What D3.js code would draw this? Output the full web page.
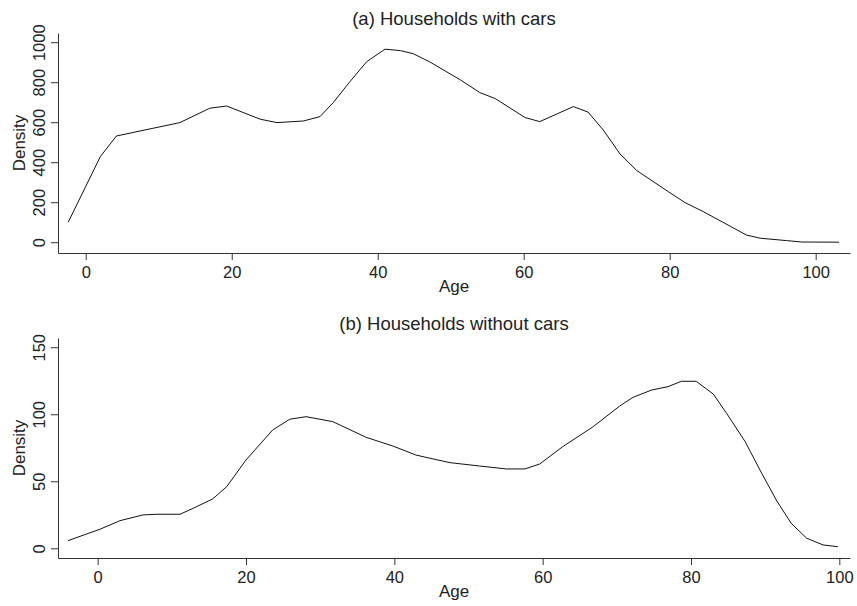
<!DOCTYPE html>
<html>
<head>
<meta charset="utf-8">
<script src="https://cdn.jsdelivr.net/npm/d3@7"></script>
<style>
  body { margin: 0; background: #fff; }
  svg { display: block; font-family: "Liberation Sans", Arial, sans-serif; }
</style>
</head>
<body>
<div id="chart"></div>
<script>
// Panel (a): households with cars
const ageA  = [-2.4, 2.0, 4.2, 12.9, 17.0, 19.3, 23.9, 26.2, 29.8, 32.1, 33.9, 36.2, 38.5, 41.0, 43.1, 44.9, 47.2,
               51.3, 54.0, 56.1, 60.2, 62.2, 66.8, 68.8, 70.9, 73.2, 75.5, 79.8, 82.1, 84.6, 90.5, 92.4, 96.0, 98.1, 103.2];
const densA = [100, 428, 531, 598, 670, 681, 615, 598, 606, 628, 698, 803, 903, 965, 958, 942, 900,
               812, 748, 718, 623, 603, 678, 651, 561, 441, 358, 253, 198, 153, 36, 20, 8, 1, 0];

// Panel (b): households without cars
const ageB  = [-4.0, 0.3, 3.0, 6.1, 8.0, 11.1, 12.9, 15.5, 17.4, 20.0, 23.6, 25.9, 28.1, 31.7, 36.2, 39.8, 42.9,
               44.8, 47.5, 51.5, 55.1, 57.6, 59.6, 62.7, 66.8, 70.4, 72.2, 74.7, 76.9, 78.7, 80.7, 83.0, 84.8,
               87.3, 89.3, 91.5, 93.5, 95.6, 97.8, 99.8];
const densB = [5.7, 14.2, 20.6, 24.9, 25.4, 25.4, 29.9, 36.8, 46.0, 65.9, 88.3, 96.3, 98.2, 94.5, 82.8, 76.3, 69.6,
               67.2, 63.9, 61.4, 59.2, 59.2, 62.9, 75.8, 90.7, 106.2, 112.7, 118.1, 120.6, 124.6, 124.6, 115.1, 100.7,
               79.6, 58.4, 36.0, 18.7, 7.5, 2.5, 1.2];

const xTicks  = [0, 20, 40, 60, 80, 100];
const yTicksA = [0, 200, 400, 600, 800, 1000];
const yTicksB = [0, 50, 100, 150];

const titles = ["(a) Households with cars", "(b) Households without cars"];

const width = 857, height = 606;
const textColor = "#222";

const svg = d3.select("#chart").append("svg")
  .attr("width", width)
  .attr("height", height);

const panels = [
  { title: titles[0], age: ageA, dens: densA, yTicks: yTicksA,
    xDomain: [-3.8, 104.7], yDomain: [-54, 1046], top: 33, bottom: 253, titleY: 25 },
  { title: titles[1], age: ageB, dens: densB, yTicks: yTicksB,
    xDomain: [-5.35, 101.44], yDomain: [-7.24, 156.9], top: 338, bottom: 558, titleY: 330 }
];

const left = 58, right = 850;

panels.forEach(p => {
  const x = d3.scaleLinear().domain(p.xDomain).range([left, right]);
  const y = d3.scaleLinear().domain(p.yDomain).range([p.bottom, p.top]);

  // title
  svg.append("text")
    .attr("x", 454).attr("y", p.titleY)
    .attr("text-anchor", "middle")
    .style("font-size", "18.5px")
    .style("fill", textColor)
    .text(p.title);

  // x axis
  const gx = svg.append("g")
    .attr("transform", `translate(0,${p.bottom})`)
    .call(d3.axisBottom(x).tickValues(xTicks).tickSize(7).tickSizeOuter(0).tickPadding(6));
  gx.selectAll("text").style("font-size", "16.5px").style("fill", textColor).style("font-family", "inherit");

  // y axis
  const gy = svg.append("g")
    .attr("transform", `translate(${left},0)`)
    .call(d3.axisLeft(y).tickValues(p.yTicks).tickFormat(d3.format("d")).tickSize(7).tickSizeOuter(0));
  gy.selectAll("text")
    .attr("transform", "rotate(-90)")
    .attr("text-anchor", "middle")
    .attr("x", 0).attr("y", -13).attr("dy", 0)
    .style("font-size", "16.5px").style("fill", textColor).style("font-family", "inherit");

  svg.selectAll(".domain, .tick line").attr("stroke", "#333");

  // axis titles
  svg.append("text")
    .attr("x", 454).attr("y", p.bottom + 39)
    .attr("text-anchor", "middle")
    .style("font-size", "17px")
    .style("fill", textColor)
    .text("Age");

  svg.append("text")
    .attr("transform", `translate(25,${(p.top + p.bottom) / 2}) rotate(-90)`)
    .attr("text-anchor", "middle")
    .style("font-size", "17px")
    .style("fill", textColor)
    .text("Density");

  // density curve
  const line = d3.line()
    .x((d, i) => x(p.age[i]))
    .y(d => y(d));

  svg.append("path")
    .datum(p.dens)
    .attr("fill", "none")
    .attr("stroke", "#111")
    .attr("stroke-width", 1)
    .attr("d", line);
});
</script>
</body>
</html>
